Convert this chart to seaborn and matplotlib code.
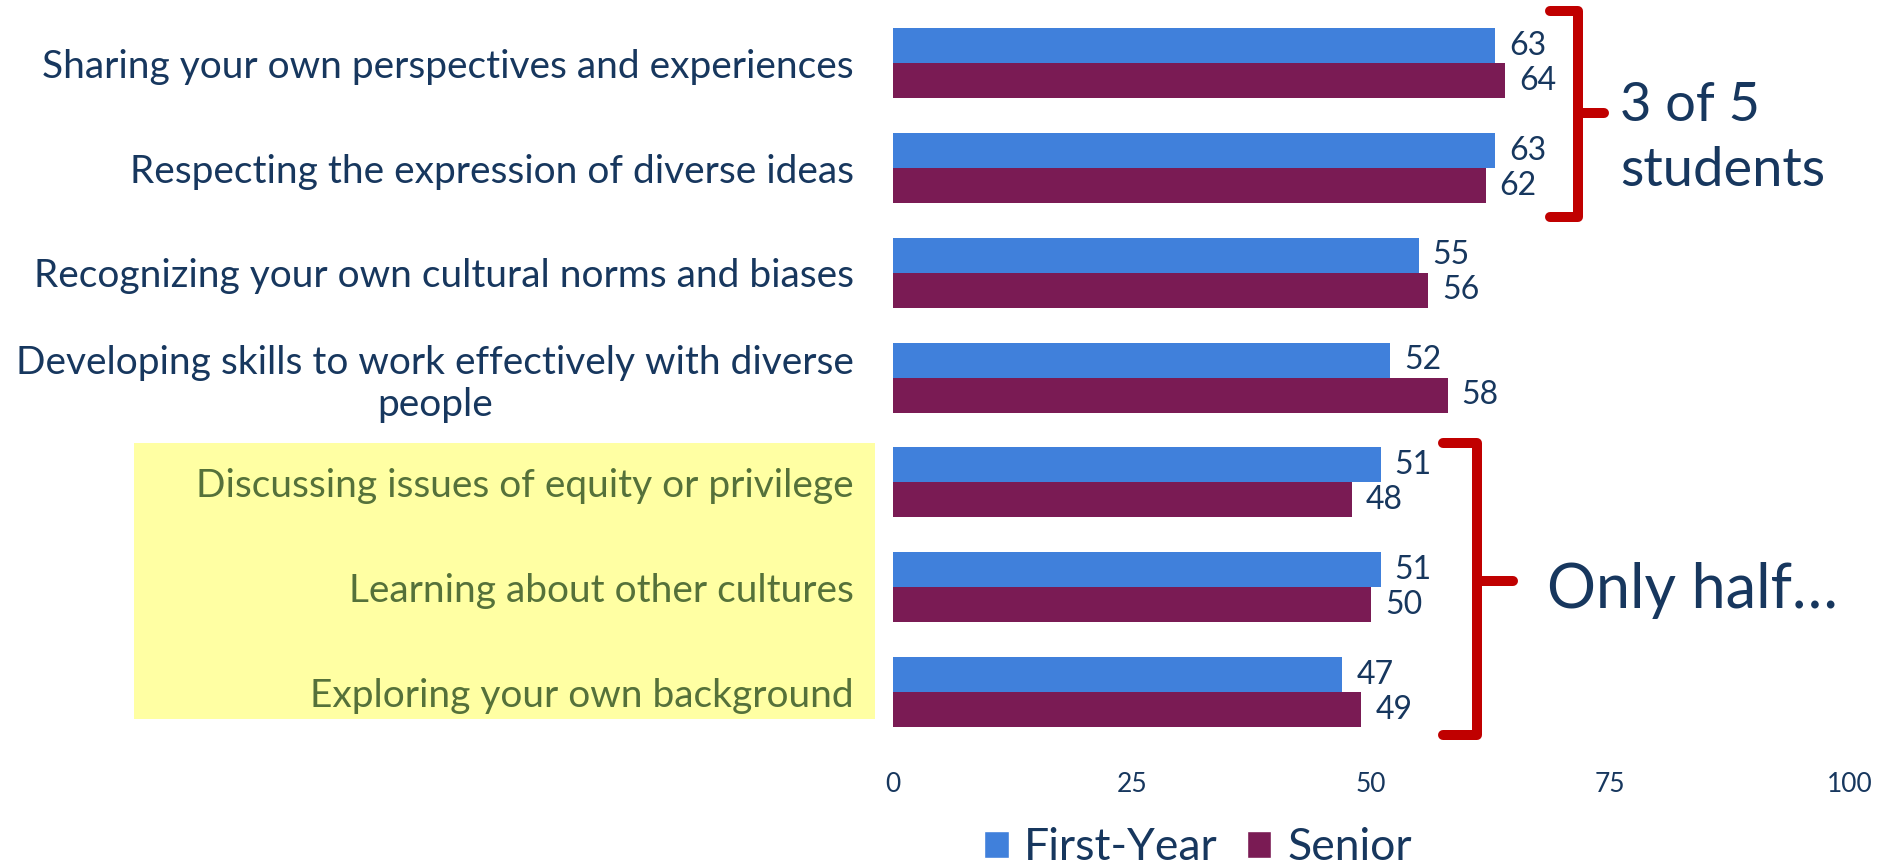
import matplotlib
matplotlib.use("Agg")
import matplotlib.pyplot as plt
import seaborn as sns
import pandas as pd
from matplotlib.patches import Rectangle, Patch

# ---- data ----
categories = [
    "Sharing your own perspectives and experiences",
    "Respecting the expression of diverse ideas",
    "Recognizing your own cultural norms and biases",
    "Developing skills to work effectively with diverse\npeople",
    "Discussing issues of equity or privilege",
    "Learning about other cultures",
    "Exploring your own background",
]
first_year = [63, 63, 55, 52, 51, 51, 47]
senior = [64, 62, 56, 58, 48, 50, 49]
groups = ["First-Year", "Senior"]
x_ticks = [0, 25, 50, 75, 100]
highlighted = categories[4:]
top_note_lines = ["3 of 5", "students"]
bottom_note = "Only half\u2026"

df = pd.DataFrame({
    "Item": categories * 2,
    "Percent": first_year + senior,
    "Class": [groups[0]] * len(categories) + [groups[1]] * len(categories),
})

BLUE = "#4080DB"
MAROON = "#7A1B54"
NAVY = "#17375E"
GREEN = "#55713A"
RED = "#C00000"
YELLOW = "#FFFFA3"

sns.set_style("white")
plt.rcParams["font.family"] = ["Lato", "DejaVu Sans"]

W, H = 1879, 865
fig = plt.figure(figsize=(W / 100, H / 100), dpi=100)
fig.patch.set_facecolor("white")
ax = fig.add_axes([892.8 / W, 1 - 744.4 / H, (1849.3 - 892.8) / W, (744.4 - 10.9) / H])
ax.patch.set_alpha(0)

sns.barplot(data=df, x="Percent", y="Item", hue="Class", order=categories,
            hue_order=groups, palette=[BLUE, MAROON], orient="h", width=0.668,
            gap=0, linewidth=0, saturation=1, legend=False, errorbar=None, ax=ax)

ax.set_xlim(0, 100)
ax.set_ylim(6.5, -0.5)
for cont in ax.containers:
    ax.bar_label(cont, fmt="%d", padding=10, fontsize=23, color=NAVY)

ax.set_xticks(x_ticks)
ax.set_xticklabels([str(t) for t in x_ticks])
ax.tick_params(axis="x", length=0, pad=20, labelsize=19, labelcolor=NAVY)
ax.tick_params(axis="y", length=0, pad=28, labelsize=28, labelcolor=NAVY)
for lab in ax.get_yticklabels():
    lab.set_multialignment("center")
    if lab.get_text() in highlighted:
        lab.set_color(GREEN)
ax.set_xlabel("")
ax.set_ylabel("")
sns.despine(ax=ax, left=True, bottom=True)

# yellow highlight box behind the lower labels
fig.add_artist(Rectangle((134 / W, 1 - 719 / H), (875 - 134) / W, (719 - 443) / H,
                         transform=fig.transFigure, facecolor=YELLOW,
                         edgecolor="none", zorder=-1))

# brackets
def bracket(x_hook, x_v, x_prong, y_top, y_bot, y_mid):
    kw = dict(color=RED, lw=7.2, solid_capstyle="round", solid_joinstyle="round",
              clip_on=False, zorder=5)
    ax.plot([x_hook, x_v, x_v, x_hook], [y_top, y_top, y_bot, y_bot], **kw)
    ax.plot([x_v, x_prong], [y_mid, y_mid], **kw)

bracket(68.7, 71.6, 74.4, -0.5, 1.47, 0.47)
bracket(57.5, 61.1, 64.8, 3.62, 6.41, 4.94)

for line, yb in zip(top_note_lines, [0.55, 1.17]):
    ax.text(76.0, yb, line, fontsize=39, color=NAVY, ha="left", va="baseline",
            clip_on=False)
ax.text(68.4, 5.2, bottom_note, fontsize=44, color=NAVY, ha="left", va="baseline",
        clip_on=False)

handles = [Patch(facecolor=BLUE, label=groups[0]), Patch(facecolor=MAROON, label=groups[1])]
fig.legend(handles=handles, loc="center", bbox_to_anchor=(1198 / W, 1 - 848 / H),
           ncol=2, frameon=False, fontsize=32, handlelength=0.55, handleheight=0.55,
           handletextpad=0.35, columnspacing=0.65, labelcolor=NAVY, borderpad=0)

fig.savefig("out.png", dpi=100)
